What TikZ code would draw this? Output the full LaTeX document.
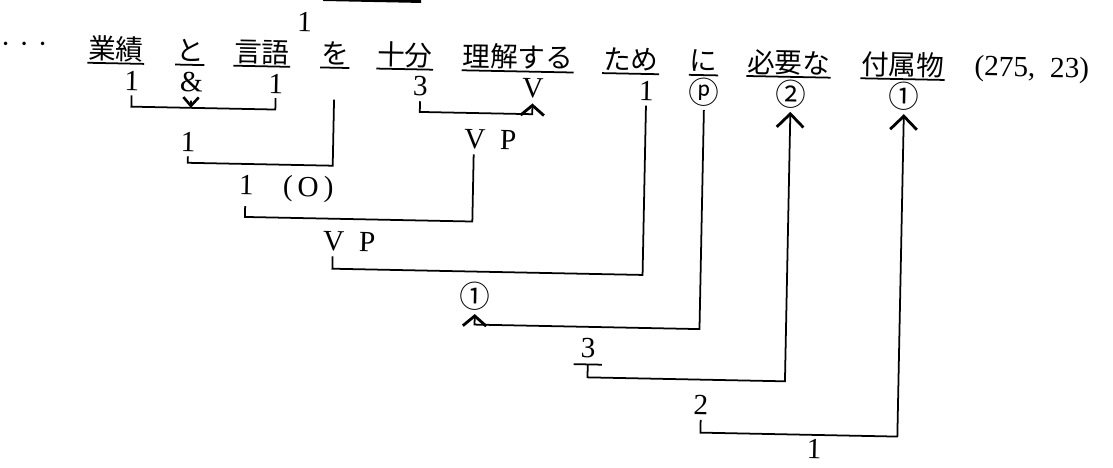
\documentclass[tikz,border=0pt]{standalone}
\usepackage{fontspec}
\setmainfont{Liberation Serif}
\newfontfamily\jpfont{Noto Sans CJK JP}
\usetikzlibrary{arrows.meta}

\begin{document}
\begin{tikzpicture}[x=0.3mm, y=-0.3mm, line width=1.5pt,
	every node/.style={font=\fontsize{25}{30}\selectfont, inner sep=0pt},
	word/.style={anchor=base, font=\fontsize{23.5}{28}\selectfont\jpfont},
	tag/.style={inner xsep=0pt, inner ysep=3.5pt},
	circ/.style={tag, inner ysep=2.5pt, font=\fontsize{26}{30}\selectfont\jpfont},
	headbig/.style={-{Straight Barb[length=4mm, width=8mm, line width=2.4pt]}},
	headmid/.style={-{Straight Barb[length=3mm, width=7mm, line width=2.4pt]}},
	headsmall/.style={-{Straight Barb[length=2.6mm, width=4.6mm, line width=2.2pt]}}]
	\useasboundingbox (0,0) rectangle (1113,468);
	\begin{scope}[rotate=-1.15, transform shape]
		% 1. 文
		\draw[line width=1.8mm] (323,-8.5) -- (421,-8.5);
		\node (dots) [anchor=base] at (25,53) {·\hspace{0.3em}·\hspace{0.3em}·};
		\node[word] (gyoseki) at (117,57) {業績};
		\node[word] (to) at (191,57) {と};
		\node[word] (gengo) at (263,57) {言語};
		\node[word] (wo) at (336,57) {を};
		\node[word] (jubun) at (406,57) {十分};
		\node[word] (rikai) at (519,57) {理解する};
		\node[word] (tame) at (632,57) {ため};
		\node[word] (ni) at (705,57) {に};
		\node[word] (hitsuyo) at (790,57) {必要な};
		\node[word] (fuzoku) at (904,57) {付属物};
		\node (count) [anchor=base] at (1033,56) {(275,\ \ 23)};
		\node (top1) at (305,16) {1};
		\foreach \w in {gyoseki,to,gengo,wo,jubun,rikai,tame,ni,hitsuyo,fuzoku}
			\draw ([yshift=-1.2mm]\w.base west) -- ([yshift=-1.2mm]\w.base east);
		
		% 2. 品詞
		\node[tag] (g1) at (133.5,78) {1};
		\node[tag] (amp) at (193,78) {\&};
		\node[tag] (k1) at (277.5,78) {1};
		\node[tag] (j3) at (422,78) {3};
		\node[tag] (v) at (534.5,78) {V};
		\node[tag] (t1) at (648,78) {1};
		\node[circ] (p) at (706,78) {ⓟ};
		\node[circ] (c2) at (792.5,78) {②};
		\node[circ] (c1) at (906,78) {①};
		
		% 3. 結合
		\draw (g1.south) |- (amp.south |- 0,104) -| (k1.south);
		\draw[headsmall, shorten <=1.2mm] (amp.south) -- (amp.south |- 0,104);
		\node[tag] (n1) at (191,138) {1};
		\draw (n1.south) |- (wo.south |- 0,159) -- (wo.south |- 0,93);
		\draw[headmid] (j3.south) |- (v.south |- 0,103.5) -- (v.south);
		\node[tag] (vp1) at (493,130) {V\hspace{0.5em}P};
		\coordinate (vp1v) at ([xshift=3.2mm]vp1.south west);
		\node[tag] (lo) at (290,183) {1\quad(\,O\,)};
		\coordinate (lo1) at ([xshift=2.2mm]lo.south west);
		\draw (lo1) |- (vp1v |- 0,212) -- (vp1v);
		\node[tag] (vp2) at (354,235) {V\hspace{0.5em}P};
		\coordinate (vp2v) at ([xshift=3.2mm]vp2.south west);
		\draw (vp2v) |- (t1.south |- 0,262) -- (t1.south);
		\node[circ] (m1) at (481,286.5) {①};
		\draw[headmid] (p.south) |- (m1.south |- 0,315) -- (m1.south);
		\node[tag, inner sep=5pt] (u3) at (595,336) {3};
		\draw (u3.south west) -- (u3.south east);
		\draw[headbig] (u3.south) |- (c2.south |- 0,365.5) -- (c2.south);
		\node[tag] (n2) at (709,391) {2};
		\draw[headbig] (n2.south) |- (c1.south |- 0,418.5) -- (c1.south);
		\node (n1b) at (823,433) {1};
	\end{scope}
\end{tikzpicture}
\end{document}
